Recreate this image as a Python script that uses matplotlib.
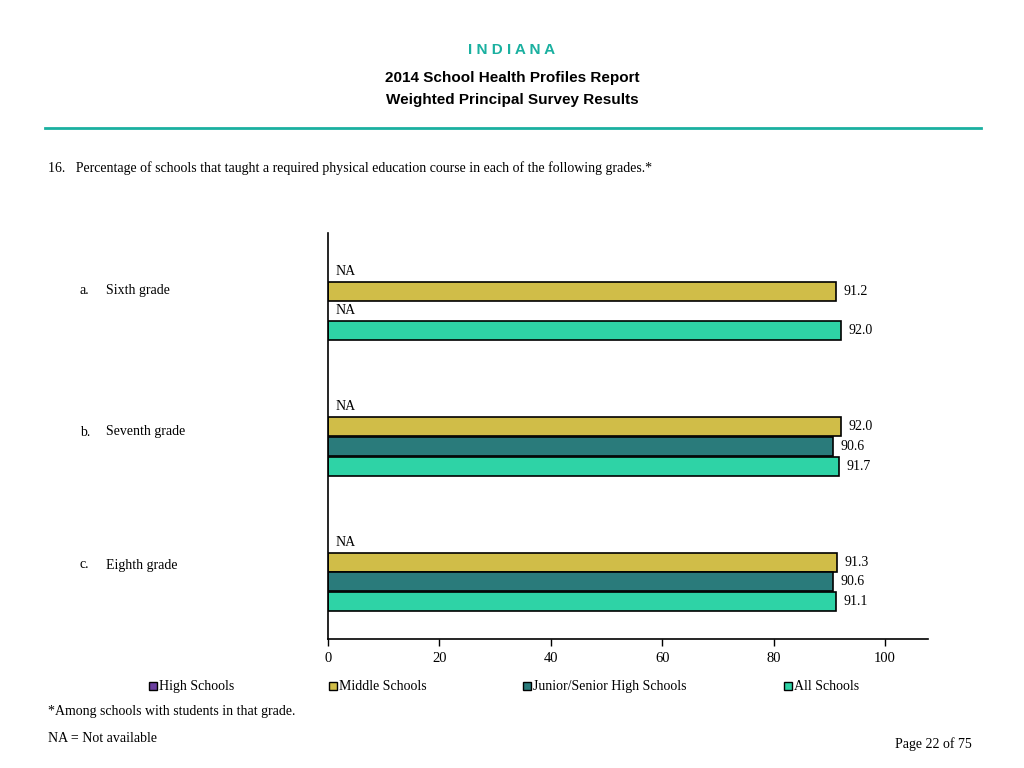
import matplotlib.pyplot as plt
from matplotlib.patches import Rectangle

grades = ['Sixth grade', 'Seventh grade', 'Eighth grade']
letters = ['a.', 'b.', 'c.']
series = ['High Schools', 'Middle Schools', 'Junior/Senior High Schools', 'All Schools']
high = [None, None, None]
middle = [91.2, 92.0, 91.3]
junior = [None, 90.6, 90.6]
alls = [92.0, 91.7, 91.1]
colors = ['#6B3FA0', '#D0BD48', '#2A7B7B', '#2ED3A6']

values = [high, middle, junior, alls]
serif = 'Liberation Serif'
sans = 'Liberation Sans'

fig = plt.figure(figsize=(10.24, 7.68), dpi=100)
ax = fig.add_axes([328/1024, 1-639/768, 600/1024, 406/768])

gap = 6.87
for g in range(len(grades)):
    for i, s in enumerate(values):
        y = g*gap + (i - 1.5)
        v = s[g]
        if v is None:
            ax.text(1.4, y, 'NA', va='center', ha='left', fontsize=10, family=serif)
        else:
            ax.barh(y, v, height=0.97, color=colors[i], edgecolor='black', linewidth=1.2)
            ax.text(v + 1.4, y, f'{v:.1f}', va='center', ha='left', fontsize=10, family=serif)

ax.set_xlim(0, 107.7)
ax.set_ylim(2*gap + 3.4, -3.45)
ax.set_xticks([0, 20, 40, 60, 80, 100])
ax.set_yticks([])
for t in ax.get_xticklabels():
    t.set_family(serif)
    t.set_fontsize(10.5)
ax.tick_params(axis='x', length=5, width=1, pad=4)
ax.spines['top'].set_visible(False)
ax.spines['right'].set_visible(False)
ax.spines['left'].set_linewidth(1.2)
ax.spines['bottom'].set_linewidth(1.2)

# header
fig.text(0.5, 1-50/768, 'I N D I A N A', ha='center', va='center', color='#1AB0A0',
         fontsize=11, fontweight='bold', family=sans)
fig.text(0.5, 1-78/768, '2014 School Health Profiles Report', ha='center', va='center',
         fontsize=11, fontweight='bold', family=sans)
fig.text(0.5, 1-100/768, 'Weighted Principal Survey Results', ha='center', va='center',
         fontsize=11, fontweight='bold', family=sans)
fig.add_artist(plt.Line2D([45/1024, 981/1024], [1-128/768, 1-128/768], color='#1AB0A0', linewidth=2))

fig.text(48/1024, 1-168/768, '16.   Percentage of schools that taught a required physical education course in each of the following grades.*',
         ha='left', va='center', fontsize=10, family=serif)

label_y = [290, 432, 565]
for g in range(len(grades)):
    fig.text(80/1024, 1-label_y[g]/768, letters[g], ha='left', va='center', fontsize=10, family=serif)
    fig.text(106/1024, 1-label_y[g]/768, grades[g], ha='left', va='center', fontsize=10, family=serif)

# legend
leg_x = [149, 329, 523, 784]
for i, name in enumerate(series):
    fig.add_artist(Rectangle((leg_x[i]/1024, 1-690/768), 8/1024, 8/768, facecolor=colors[i],
                             edgecolor='black', linewidth=1, transform=fig.transFigure))
    fig.text((leg_x[i]+10)/1024, 1-690/768, name, ha='left', va='baseline', fontsize=10, family=serif)

fig.text(48/1024, 1-712/768, '*Among schools with students in that grade.', ha='left', va='center',
         fontsize=10, family=serif)
fig.text(48/1024, 1-739/768, 'NA = Not available', ha='left', va='center', fontsize=10, family=serif)
fig.text(972/1024, 1-744/768, 'Page 22 of 75', ha='right', va='center', fontsize=10, family=serif)

fig.savefig('out.png', dpi=100)
